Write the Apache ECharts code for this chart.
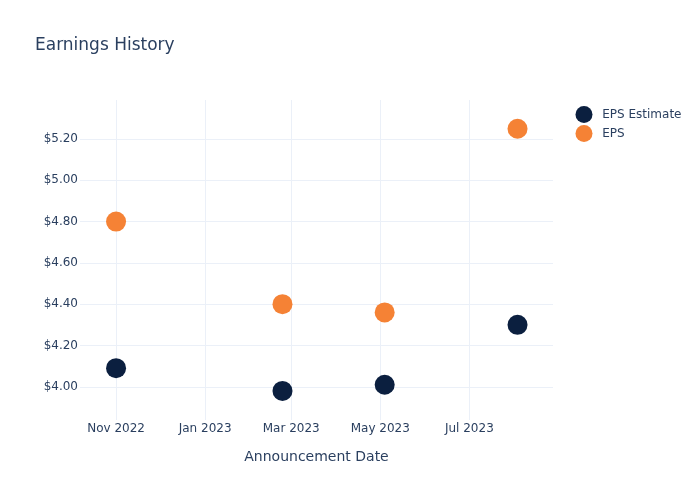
<!DOCTYPE html>
<html><head><meta charset="utf-8">
<script src="https://cdn.jsdelivr.net/npm/echarts@6/dist/echarts.min.js"></script>
<style>html,body{margin:0;padding:0;background:#fff}#c{width:700px;height:500px}</style>
</head><body><div id="c"></div>
<script>
const dates = ['2022-11-01', '2023-02-23', '2023-05-04', '2023-08-03'];
const epsEstimate = [4.09, 3.98, 4.01, 4.30];
const eps = [4.80, 4.40, 4.36, 5.25];
const xTickDates = ['2022-11-01', '2023-01-01', '2023-03-01', '2023-05-01', '2023-07-01'];
const yTicks = [4.0, 4.2, 4.4, 4.6, 4.8, 5.0, 5.2];
const monthNames = ['Jan','Feb','Mar','Apr','May','Jun','Jul','Aug','Sep','Oct','Nov','Dec'];

const ts = s => Date.UTC(+s.slice(0,4), +s.slice(5,7)-1, +s.slice(8,10));
const DAY = 86400000;
const xMin = ts('2022-11-01') - 24.7 * DAY;
const xMax = ts('2023-07-01') + 57.3 * DAY;
const xTicks = xTickDates.map(ts);
const font = 'DejaVu Sans';
const txt = '#2a3f5f';

const chart = echarts.init(document.getElementById('c'), null, {renderer: 'canvas'});
chart.setOption({
  animation: false,
  textStyle: {fontFamily: font},
  title: {text: 'Earnings History', left: 30, top: 32,
    textStyle: {fontFamily: font, fontSize: 17, fontWeight: 'normal', color: txt}},
  legend: {
    data: ['EPS Estimate', 'EPS'], orient: 'vertical', left: 570.5, top: 101,
    itemWidth: 26.5, itemHeight: 17, itemGap: 2, icon: 'circle',
    textStyle: {fontFamily: font, fontSize: 12, color: txt}
  },
  grid: {left: 80, right: 147, top: 100, bottom: 80, containLabel: false},
  xAxis: {
    type: 'value', min: xMin, max: xMax,
    name: 'Announcement Date', nameLocation: 'middle', nameGap: 30,
    nameTextStyle: {fontFamily: font, fontSize: 14, color: txt},
    axisLine: {show: false}, axisTick: {show: false, customValues: xTicks},
    axisLabel: {customValues: xTicks, fontFamily: font, fontSize: 12, color: txt, margin: 3,
      formatter: v => { const d = new Date(v); return monthNames[d.getUTCMonth()] + ' ' + d.getUTCFullYear(); }},
    splitLine: {show: true, lineStyle: {color: '#ebf0f8', width: 1}}
  },
  yAxis: {
    type: 'value', min: 3.839, max: 5.389,
    axisLine: {show: false}, axisTick: {show: false, customValues: yTicks},
    axisLabel: {customValues: yTicks, fontFamily: font, fontSize: 12, color: txt, margin: 2,
      formatter: v => '$' + v.toFixed(2)},
    splitLine: {show: true, lineStyle: {color: '#ebf0f8', width: 1}}
  },
  series: [
    {name: 'EPS Estimate', type: 'scatter', symbolSize: 20,
     itemStyle: {color: '#0b1f3f', opacity: 1},
     data: dates.map((d, i) => [ts(d), epsEstimate[i]])},
    {name: 'EPS', type: 'scatter', symbolSize: 20,
     itemStyle: {color: '#f58235', opacity: 1},
     data: dates.map((d, i) => [ts(d), eps[i]])}
  ]
});
</script></body></html>
